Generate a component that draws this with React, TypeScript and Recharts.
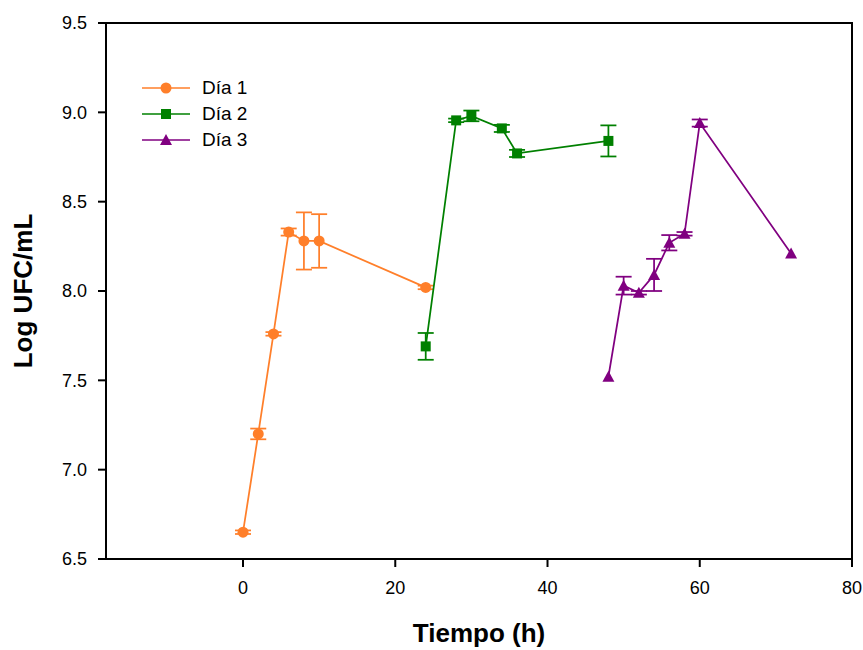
import { ComposedChart, Line, XAxis, YAxis, ErrorBar, ReferenceArea, Legend, Label } from 'recharts';

const dia1Tiempo = [0, 2, 4, 6, 8, 10, 24];
const dia1Log = [6.65, 7.2, 7.76, 8.33, 8.28, 8.28, 8.02];
const dia1Err = [0.01, 0.03, 0.01, 0.02, 0.16, 0.15, 0.01];

const dia2Tiempo = [24, 28, 30, 34, 36, 48];
const dia2Log = [7.69, 8.955, 8.98, 8.91, 8.77, 8.84];
const dia2Err = [0.075, 0.01, 0.03, 0.02, 0.02, 0.087];

const dia3Tiempo = [48, 50, 52, 54, 56, 58, 60, 72];
const dia3Log = [7.52, 8.03, 7.99, 8.09, 8.27, 8.32, 8.94, 8.21];
const dia3Err = [0, 0.05, 0.01, 0.09, 0.043, 0.01, 0.02, 0];

const xTicks = [0, 20, 40, 60, 80];
const yTicks = [6.5, 7.0, 7.5, 8.0, 8.5, 9.0, 9.5];

const FONT = '"Liberation Sans", Arial, sans-serif';

type Pt = { x: number; y: number; err: number };

const toPoints = (xs: number[], ys: number[], es: number[]): Pt[] =>
  xs.map((x, i) => ({ x, y: ys[i], err: es[i] }));

const series = [
  { name: 'Día 1', color: '#FF7F2A', shape: 'circle', data: toPoints(dia1Tiempo, dia1Log, dia1Err) },
  { name: 'Día 2', color: '#008000', shape: 'square', data: toPoints(dia2Tiempo, dia2Log, dia2Err) },
  { name: 'Día 3', color: '#800080', shape: 'triangle', data: toPoints(dia3Tiempo, dia3Log, dia3Err) },
];

const Marker = ({ cx, cy, color, shape }: { cx: number; cy: number; color: string; shape: string }) => {
  if (shape === 'circle') return <circle cx={cx} cy={cy} r={5.5} fill={color} />;
  if (shape === 'square') return <rect x={cx - 5} y={cy - 5} width={10} height={10} fill={color} />;
  return <polygon points={`${cx},${cy - 6} ${cx - 6},${cy + 5} ${cx + 6},${cy + 5}`} fill={color} />;
};

const renderLegend = () => (
  <div style={{ fontFamily: FONT, fontSize: 19, color: '#000' }}>
    {series.map((s) => (
      <div key={s.name} style={{ display: 'flex', alignItems: 'center', height: 26 }}>
        <svg width={52} height={16} style={{ marginRight: 10 }}>
          <line x1={2} y1={8} x2={50} y2={8} stroke={s.color} strokeWidth={1.5} />
          <Marker cx={26} cy={8} color={s.color} shape={s.shape} />
        </svg>
        <span>{s.name}</span>
      </div>
    ))}
  </div>
);

const YTitle = (props: any) => {
  const { viewBox } = props;
  const cx = 32;
  const cy = viewBox.y + viewBox.height / 2;
  return (
    <text
      x={cx}
      y={cy}
      transform={`rotate(-90 ${cx} ${cy})`}
      textAnchor="middle"
      fontFamily={FONT}
      fontWeight="bold"
      fontSize={26}
      fill="#000"
    >
      Log UFC/mL
    </text>
  );
};

const XTitle = (props: any) => {
  const { viewBox } = props;
  const cx = viewBox.x + viewBox.width / 2;
  return (
    <text x={cx} y={642} textAnchor="middle" fontFamily={FONT} fontWeight="bold" fontSize={26} fill="#000">
      Tiempo (h)
    </text>
  );
};

export default function App() {
  return (
    <div style={{ position: 'absolute', left: 0, top: 0, background: '#fff' }}>
      <ComposedChart width={863} height={650} margin={{ top: 23, right: 11, left: 0, bottom: 0 }}>
        <XAxis
          type="number"
          dataKey="x"
          domain={[-18, 80]}
          ticks={xTicks}
          allowDataOverflow
          tickSize={8}
          tickMargin={14}
          height={91}
          stroke="#000"
          strokeWidth={2}
          tick={{ fill: '#000', fontSize: 18, fontFamily: FONT }}
        >
          <Label content={XTitle} />
        </XAxis>
        <YAxis
          type="number"
          domain={[6.5, 9.5]}
          ticks={yTicks}
          allowDataOverflow
          tickFormatter={(v: number) => v.toFixed(1)}
          tickSize={8}
          tickMargin={11}
          width={106}
          stroke="#000"
          strokeWidth={2}
          tick={{ fill: '#000', fontSize: 18, fontFamily: FONT }}
        >
          <Label content={YTitle} />
        </YAxis>
        <ReferenceArea x1={-18} x2={80} y1={6.5} y2={9.5} fill="none" stroke="#000" strokeWidth={2} />
        <Legend
          content={renderLegend}
          layout="horizontal"
          verticalAlign="middle"
          align="center"
          wrapperStyle={{ position: 'absolute', left: 140, top: 75, width: 'auto', height: 'auto' }}
        />
        {series.map((s) => (
          <Line
            key={s.name}
            data={s.data}
            dataKey="y"
            name={s.name}
            stroke={s.color}
            strokeWidth={1.75}
            isAnimationActive={false}
            dot={(p: any) => <Marker key={`${s.name}-${p.index}`} cx={p.cx} cy={p.cy} color={s.color} shape={s.shape} />}
            activeDot={false}
          >
            <ErrorBar dataKey="err" direction="y" width={8} stroke={s.color} strokeWidth={1.75} />
          </Line>
        ))}
      </ComposedChart>
    </div>
  );
}
